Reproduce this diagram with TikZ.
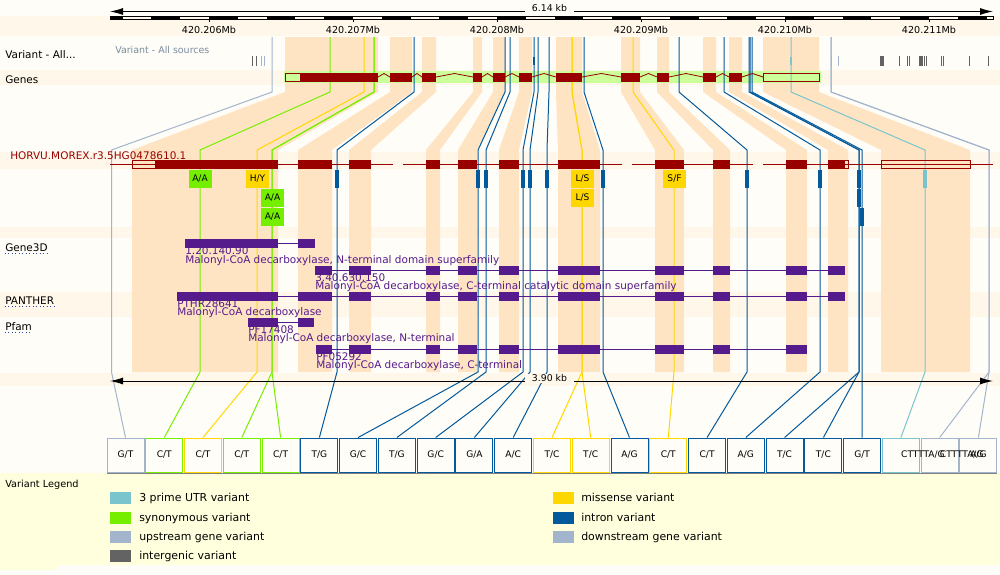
\documentclass[tikz,border=0pt]{standalone}
\usepackage{fontspec}
\setmainfont{DejaVu Sans}
\usepackage{tikz}
\usetikzlibrary{arrows.meta}

\definecolor{bgcream}{RGB}{255,253,247}
\definecolor{stripe}{RGB}{255,248,234}
\definecolor{exonband}{RGB}{255,228,196}
\definecolor{genered}{RGB}{153,0,0}
\definecolor{genegreen}{RGB}{204,255,153}
\definecolor{dompurple}{RGB}{85,26,139}
\definecolor{utrthree}{RGB}{122,197,205}
\definecolor{synvar}{RGB}{118,238,0}
\definecolor{upvar}{RGB}{162,181,205}
\definecolor{intergvar}{RGB}{99,99,99}
\definecolor{misvar}{RGB}{255,215,0}
\definecolor{intronvar}{RGB}{2,89,156}
\definecolor{legendbg}{RGB}{255,255,222}
\definecolor{trackgray}{RGB}{120,140,160}
\definecolor{linkblue}{RGB}{40,70,170}

\newcommand{\domexons}{349/371,426/440,458/477,499/519,558/600,655/684,713/730,786/807}

\begin{document}
\begin{tikzpicture}[x=0.75pt,y=-0.75pt,font=\fontsize{7.85}{9.2}\selectfont,
  vline/.style={line width=0.75pt},
  vbox/.style={draw,line width=0.75pt,fill=bgcream,minimum width=27.75pt,minimum height=25.5pt,inner sep=0pt,font=\fontsize{6.8}{8}\selectfont},
  vlabel/.style={minimum width=17.25pt,minimum height=13.5pt,inner sep=0pt,font=\fontsize{6.8}{8}\selectfont},
  trackname/.style={anchor=mid west,inner sep=0pt},
  domtext/.style={anchor=mid west,inner sep=0pt,text=dompurple},
  legtext/.style={anchor=mid west,inner sep=0pt,font=\fontsize{8.2}{9.5}\selectfont},
  rulertext/.style={font=\fontsize{7.2}{8.6}\selectfont},
  kbarrow/.style={line width=0.75pt,>={Latex[length=9.75pt,width=5.25pt]},<->}]
  \useasboundingbox (0,0) rectangle (1000,575);

  % background rows
  \fill[bgcream] (0,0) rectangle (1000,575);
  \fill[stripe] (0,16) rectangle (1000,36);
  \fill[stripe] (0,70) rectangle (1000,85);
  \fill[stripe] (0,152) rectangle (1000,169);
  \fill[stripe] (0,227) rectangle (1000,238);
  \fill[stripe] (0,292) rectangle (1000,317);
  \fill[stripe] (0,373) rectangle (1000,386);
  \fill[legendbg] (0,473) rectangle (1000,565);
  \fill[legendbg] (0,565) rectangle (57,570);

  % exon bands, genomic -> transcript
  \foreach \ga/\gb/\ta/\tb in {285/378/132/278,390/412/298/332,422/436/349/371,473/482/426/440,
      493/505/458/477,519/532/499/519,556/582/558/600,621/640/655/684,657/669/713/730,
      703/716/786/807,729/742/828/848,763/819/881/970}
    \fill[exonband] (\ga,37) -- (\gb,37) -- (\gb,92) -- (\tb,150) -- (\tb,372) -- (\ta,372) -- (\ta,150) -- (\ga,92) -- cycle;

  % top ruler
  \draw[kbarrow] (110,11.5) -- (993,11.5);
  \node[fill=bgcream,inner xsep=5pt,inner ysep=1pt,font=\fontsize{7}{8.4}\selectfont] (toplen) at (549.5,8.5) {6.14 kb};
  \draw[line width=0.5pt] (110,16) rectangle (993,19.5);
  \fill (110,16) rectangle (122.6,19.5);
  \foreach \k in {0,...,14}
    \fill ({151.4+57.6*\k},16) rectangle ++(28.8,3.5);
  \foreach \t/\lab in {209/206,353/207,497/208,641/209,785/210,929/211} {
    \draw[line width=0.5pt] (\t,19.5) -- (\t,22);
    \node[rulertext] (mb\lab) at (\t,30) {420.\lab Mb};
  }

  % variant track
  \node[trackname,text=trackgray,font=\fontsize{7.1}{8.5}\selectfont] (vartrack) at (115,50) {Variant - All sources};
  \foreach \m in {252,256,899,907,909,924.5,926.5,941,943,969,988}
    \draw[intergvar,line width=0.75pt] (\m,56) -- (\m,66);
  \fill[intergvar] (880,56) rectangle (884,66);
  \fill[intergvar] (919,56) rectangle (923,66);
  \foreach \m in {261,264,831,838}
    \draw[upvar,line width=0.75pt] (\m,56) -- (\m,66);
  \draw[intronvar,line width=1pt] (534,57) -- (534,65);
  \draw[utrthree,line width=1pt] (791,57) -- (791,65);

  % genes row highlight
  \fill[genegreen] (284,71) rectangle (821,83);

  % variant boxes
  \node[vbox,draw=upvar] (v1) at (125.5,455) {G/T};
  \node[vbox,draw=synvar] (v2) at (164.3,455) {C/T};
  \node[vbox,draw=misvar] (v3) at (203.0,455) {C/T};
  \node[vbox,draw=synvar] (v4) at (241.8,455) {C/T};
  \node[vbox,draw=synvar] (v5) at (280.6,455) {C/T};
  \node[vbox,draw=intronvar] (v6) at (319.4,455) {T/G};
  \node[vbox,draw=intronvar] (v7) at (358.1,455) {G/C};
  \node[vbox,draw=intronvar] (v8) at (396.9,455) {T/G};
  \node[vbox,draw=intronvar] (v9) at (435.7,455) {G/C};
  \node[vbox,draw=intronvar] (v10) at (474.4,455) {G/A};
  \node[vbox,draw=intronvar] (v11) at (513.2,455) {A/C};
  \node[vbox,draw=misvar] (v12) at (552.0,455) {T/C};
  \node[vbox,draw=misvar] (v13) at (590.7,455) {T/C};
  \node[vbox,draw=intronvar] (v14) at (629.5,455) {A/G};
  \node[vbox,draw=misvar] (v15) at (668.3,455) {C/T};
  \node[vbox,draw=intronvar] (v16) at (707.1,455) {C/T};
  \node[vbox,draw=intronvar] (v17) at (745.8,455) {A/G};
  \node[vbox,draw=intronvar] (v18) at (784.6,455) {T/C};
  \node[vbox,draw=intronvar] (v19) at (823.4,455) {T/C};
  \node[vbox,draw=intronvar] (v20) at (862.1,455) {G/T};
  \node[vbox,draw=utrthree] (v21) at (900.9,455) {};
  \node[vbox,draw=upvar] (v22) at (939.7,455) {};
  \node[vbox,draw=upvar] (v23) at (978.4,455) {};
  \node[anchor=west,inner sep=0pt,font=\fontsize{6.8}{8}\selectfont] (t21) at (v21.center) {CTTTTA/G};
  \node[anchor=west,inner sep=0pt,font=\fontsize{6.8}{8}\selectfont] (t22) at (v22.center) {CTTTTA/G};
  \node[inner sep=0pt,font=\fontsize{6.8}{8}\selectfont] (t23) at (v23.center) {A/G};
  \draw[gray,line width=0.75pt] (107,473) -- (997,473);

  % variant lines
  \draw[vline,upvar] (272,37) -- (272,92) -- (111.5,150) -- (111.5,372) -- (v1.north);
  \draw[vline,synvar] (330,37) -- (330,92) -- (200,150) -- (200,372) -- (v2.north);
  \draw[vline,misvar] (364,37) -- (364,92) -- (257,150) -- (257,372) -- (v3.north);
  \draw[vline,synvar] (374,37) -- (374,92) -- (272,150) -- (272,372) -- (v4.north);
  \draw[vline,synvar] (374,37) -- (374,92) -- (272,150) -- (272,372) -- (v5.north);
  \draw[vline,intronvar] (414,37) -- (414,92) -- (337,150) -- (337,372) -- (v6.north);
  \draw[vline,intronvar] (505,37) -- (505,92) -- (478,150) -- (478,372) -- (v7.north);
  \draw[vline,intronvar] (510,37) -- (510,92) -- (486,150) -- (486,372) -- (v8.north);
  \draw[vline,intronvar] (534,37) -- (534,92) -- (523,150) -- (523,372) -- (v9.north);
  \draw[vline,intronvar] (538,37) -- (538,92) -- (530,150) -- (530,372) -- (v10.north);
  \draw[vline,intronvar] (549,37) -- (549,92) -- (547,150) -- (547,372) -- (v11.north);
  \draw[vline,misvar] (572,37) -- (572,92) -- (582,150) -- (582,372) -- (v12.north);
  \draw[vline,misvar] (572,37) -- (572,92) -- (582,150) -- (582,372) -- (v13.north);
  \draw[vline,intronvar] (584,37) -- (584,92) -- (603,150) -- (603,372) -- (v14.north);
  \draw[vline,misvar] (633,37) -- (633,92) -- (674,150) -- (674,372) -- (v15.north);
  \draw[vline,intronvar] (679,37) -- (679,92) -- (747,150) -- (747,372) -- (v16.north);
  \draw[vline,intronvar] (724,37) -- (724,92) -- (820,150) -- (820,372) -- (v17.north);
  \draw[vline,intronvar] (749,37) -- (749,92) -- (859,150) -- (859,372) -- (v18.north);
  \draw[vline,intronvar] (750,37) -- (750,92) -- (859,150) -- (859,372) -- (v19.north);
  \draw[vline,intronvar] (752,37) -- (752,92) -- (862,150) -- (862,372) -- (v20.north);
  \draw[vline,utrthree] (791,37) -- (791,92) -- (925,150) -- (925,372) -- (v21.north);
  \draw[vline,upvar] (831,37) -- (831,92) -- (989,150) -- (989,372) -- (v22.north);
  \draw[vline,upvar] (831,37) -- (831,92) -- (989,150) -- (989,372) -- (v23.north);

  % gene model
  \foreach \a/\b in {378/390,412/422,436/473,482/493,505/519,532/556,582/621,640/657,669/703,716/729,742/763}
    \draw[genered,line width=0.6pt] (\a,77) -- ({(\a+\b)/2},73.5) -- (\b,77);
  \foreach \a/\b in {300/378,390/412,422/436,473/482,493/505,519/532,556/582,621/640,657/669,703/716,729/742}
    \fill[genered] (\a,73) rectangle (\b,81.5);
  \draw[genered,line width=0.75pt] (285.5,73.5) rectangle (300,81);
  \draw[genered,line width=0.75pt] (763,73.5) rectangle (819,81);

  % transcript
  \node[trackname,text=genered] (txname) at (10,156) {HORVU.MOREX.r3.5HG0478610.1};
  \draw[genered,line width=0.75pt] (110,164) -- (393,164) (403,164) -- (622,164) (632,164) -- (753,164) (763,164) -- (993,164);
  \foreach \a/\b in {155/278,298/332,828/844}
    \fill[genered] (\a,159.5) rectangle (\b,168.5);
  \foreach \a/\b in \domexons
    \fill[genered] (\a,159.5) rectangle (\b,168.5);
  \draw[genered,line width=0.75pt] (132.5,160) rectangle (155,168);
  \draw[genered,line width=0.75pt] (844,160) rectangle (848,168);
  \draw[genered,line width=0.75pt] (881,160) rectangle (970,168);

  % consequences on the transcript
  \foreach \b/\r in {337/0,478/0,486/0,523/0,530/0,547/0,603/0,747/0,820/0,859/0,859/1,862/2}
    \fill[intronvar] ({\b-2.25},{170+19*\r}) rectangle ({\b+2.25},{188+19*\r});
  \fill[utrthree] (922.75,170) rectangle (927.25,188);
  \node[vlabel,fill=synvar] (aa1) at (200,179) {A/A};
  \node[vlabel,fill=misvar] (hy) at (257.5,179) {H/Y};
  \node[vlabel,fill=synvar] (aa2) at (272.5,198) {A/A};
  \node[vlabel,fill=synvar] (aa3) at (272.5,217) {A/A};
  \node[vlabel,fill=misvar] (ls1) at (582.5,179) {L/S};
  \node[vlabel,fill=misvar] (ls2) at (582.5,198) {L/S};
  \node[vlabel,fill=misvar] (sf) at (674.5,179) {S/F};

  % protein domains
  \draw[dompurple,line width=0.75pt] (278,243.5) -- (298,243.5);
  \fill[dompurple] (185,239) rectangle (278,248);
  \fill[dompurple] (298,239) rectangle (315,248);
  \node[domtext] (g3da) at (185,251) {1.20.140.90};
  \node[domtext] (g3dan) at (185,259.5) {Malonyl-CoA decarboxylase, N-terminal domain superfamily};
  \draw[dompurple,line width=0.75pt] (315,270.5) -- (845,270.5);
  \foreach \a/\b in {315/332,828/845}
    \fill[dompurple] (\a,266) rectangle (\b,275);
  \foreach \a/\b in \domexons
    \fill[dompurple] (\a,266) rectangle (\b,275);
  \node[domtext] (g3db) at (315,277.5) {3.40.630.150};
  \node[domtext] (g3dbn) at (315,286) {Malonyl-CoA decarboxylase, C-terminal catalytic domain superfamily};
  \draw[dompurple,line width=0.75pt] (177,296.5) -- (845,296.5);
  \foreach \a/\b in {177/278,298/332,828/845}
    \fill[dompurple] (\a,292) rectangle (\b,301);
  \foreach \a/\b in \domexons
    \fill[dompurple] (\a,292) rectangle (\b,301);
  \node[domtext] (pth) at (177,303.5) {PTHR28641};
  \node[domtext] (pthn) at (177,312) {Malonyl-CoA decarboxylase};
  \draw[dompurple,line width=0.75pt] (278,322.5) -- (298,322.5);
  \fill[dompurple] (248,318) rectangle (278,327);
  \fill[dompurple] (298,318) rectangle (314,327);
  \node[domtext] (pfa) at (248,329.5) {PF17408};
  \node[domtext] (pfan) at (248,338) {Malonyl-CoA decarboxylase, N-terminal};
  \draw[dompurple,line width=0.75pt] (316,349.5) -- (806,349.5);
  \fill[dompurple] (316,345) rectangle (332,354);
  \foreach \a/\b in \domexons
    \fill[dompurple] (\a,345) rectangle (\b,354);
  \node[domtext] (pfb) at (316,356.5) {PF05292};
  \node[domtext] (pfbn) at (316,365) {Malonyl-CoA decarboxylase, C-terminal};

  % bottom ruler
  \draw[kbarrow] (110,381) -- (993,381);
  \node[fill=stripe,inner xsep=5pt,inner ysep=1pt,font=\fontsize{7}{8.4}\selectfont] (botlen) at (549.5,378.5) {3.90 kb};

  % track names
  \node[trackname] (lvar) at (5,55) {Variant - All...};
  \node[trackname] (lgenes) at (5,80) {Genes};
  \node[trackname] (lg3d) at (5,247.5) {Gene3D};
  \node[trackname] (lpth) at (5,301) {PANTHER};
  \node[trackname] (lpfam) at (5,327) {Pfam};
  \draw[linkblue,dotted,line width=0.6pt] (5,253.5) -- (49,253.5);
  \draw[linkblue,dotted,line width=0.6pt] (5,306.5) -- (56,306.5);
  \draw[linkblue,dotted,line width=0.6pt] (5,332.5) -- (32,332.5);

  % legend
  \node[trackname,font=\fontsize{7.3}{8.7}\selectfont] (lleg) at (5,484) {Variant Legend};
  \fill[utrthree] (110,492) rectangle (131,504);
  \node[legtext] (k1) at (139,498) {3 prime UTR variant};
  \fill[synvar] (110,511.5) rectangle (131,523.5);
  \node[legtext] (k2) at (139,517.5) {synonymous variant};
  \fill[upvar] (110,530.5) rectangle (131,542.5);
  \node[legtext] (k3) at (139,536.5) {upstream gene variant};
  \fill[intergvar] (110,550) rectangle (131,562);
  \node[legtext] (k4) at (139,556) {intergenic variant};
  \fill[misvar] (553,492) rectangle (574,504);
  \node[legtext] (k5) at (581,498) {missense variant};
  \fill[intronvar] (553,511.5) rectangle (574,523.5);
  \node[legtext] (k6) at (581,517.5) {intron variant};
  \fill[upvar] (553,530.5) rectangle (574,542.5);
  \node[legtext] (k7) at (581,536.5) {downstream gene variant};
\end{tikzpicture}
\end{document}
